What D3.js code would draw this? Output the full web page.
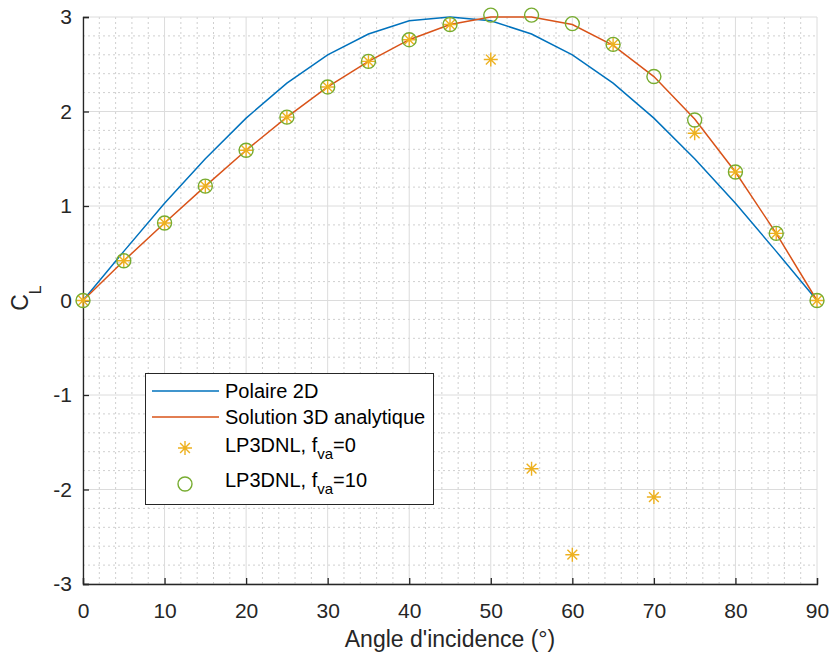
<!DOCTYPE html>
<html><head><meta charset="utf-8">
<script src="https://cdn.jsdelivr.net/npm/d3@7"></script>
<style>body{margin:0;background:#fff}svg{display:block;font-family:"Liberation Sans",Arial,sans-serif}</style>
</head><body>
<svg id="c" width="830" height="657"></svg>
<script>
const angles = [0,5,10,15,20,25,30,35,40,45,50,55,60,65,70,75,80,85,90];
const polaire2D = [0,0.52,1.03,1.50,1.93,2.30,2.60,2.82,2.96,3.00,2.96,2.82,2.60,2.30,1.93,1.50,1.03,0.52,0];
const solution3D = [0,0.42,0.82,1.21,1.59,1.94,2.26,2.53,2.76,2.92,3.00,3.00,2.92,2.70,2.37,1.92,1.36,0.71,0];
const lp3dnlF0 = [0,0.42,0.82,1.21,1.59,1.94,2.26,2.53,2.76,2.92,2.55,-1.78,-2.69,2.71,-2.08,1.77,1.36,0.71,0];
const lp3dnlF10 = [0,0.42,0.82,1.21,1.59,1.94,2.26,2.53,2.76,2.92,3.02,3.02,2.93,2.71,2.37,1.91,1.36,0.71,0];
const xTicks = [0,10,20,30,40,50,60,70,80,90];
const yTicks = [-3,-2,-1,0,1,2,3];
const legendLabels = ["Polaire 2D","Solution 3D analytique","LP3DNL, f","LP3DNL, f"];

const C = {blue:"#0072BD", orange:"#D95319", yellow:"#EDB120", green:"#77AC30", axis:"#262626"};
const svg = d3.select("#c");
const L=83, R=817, T=17, B=584;
const x = d3.scaleLinear().domain([0,90]).range([L,R]);
const y = d3.scaleLinear().domain([-3,3]).range([B,T]);

// minor grid
const g = svg.append("g");
g.selectAll(".mx").data(d3.range(0,91,2).filter(v=>v%10!==0)).join("line")
  .attr("x1",d=>x(d)).attr("x2",d=>x(d)).attr("y1",T).attr("y2",B)
  .attr("stroke","#cfcfcf").attr("stroke-width",1).attr("stroke-dasharray","2,3");
g.selectAll(".my").data(d3.range(-30,31,2).map(v=>v/10).filter(v=>Math.abs(v-Math.round(v))>1e-6)).join("line")
  .attr("y1",d=>y(d)).attr("y2",d=>y(d)).attr("x1",L).attr("x2",R)
  .attr("stroke","#cfcfcf").attr("stroke-width",1).attr("stroke-dasharray","2,3");
// major grid
g.selectAll(".gx").data(xTicks).join("line")
  .attr("x1",d=>x(d)).attr("x2",d=>x(d)).attr("y1",T).attr("y2",B)
  .attr("stroke","#dcdcdc").attr("stroke-width",1);
g.selectAll(".gy").data(yTicks).join("line")
  .attr("y1",d=>y(d)).attr("y2",d=>y(d)).attr("x1",L).attr("x2",R)
  .attr("stroke","#dcdcdc").attr("stroke-width",1);

// axes
const xa = svg.append("g").attr("transform",`translate(0,${B})`)
  .call(d3.axisBottom(x).tickValues(xTicks).tickSize(-6).tickPadding(19).tickFormat(d3.format("d")));
const ya = svg.append("g").attr("transform",`translate(${L},0)`)
  .call(d3.axisLeft(y).tickValues(yTicks).tickSize(-6).tickPadding(11).tickFormat(d=>d<0?"-"+Math.abs(d):d));
[xa,ya].forEach(a=>{
  a.select(".domain").attr("stroke",C.axis).attr("stroke-width",1.3);
  a.selectAll(".tick line").attr("stroke",C.axis).attr("stroke-width",1.3);
  a.selectAll(".tick text").attr("fill",C.axis).attr("font-size",21).attr("font-family","Liberation Sans, Arial, sans-serif");
});
xa.selectAll(".tick text").attr("dy","0.71em");

svg.append("text").attr("x",(L+R)/2).attr("y",647).attr("text-anchor","middle")
  .attr("font-size",23).attr("fill",C.axis).text("Angle d'incidence (°)");
const yl = svg.append("text").attr("transform",`translate(28,298) rotate(-90)`)
  .attr("text-anchor","middle").attr("font-size",23).attr("fill",C.axis);
yl.append("tspan").text("C");
yl.append("tspan").attr("font-size",16).attr("dy",13).text("L");

// lines
const line = d3.line().x((d,i)=>x(angles[i])).y(d=>y(d));
svg.append("path").datum(polaire2D).attr("d",line).attr("fill","none").attr("stroke",C.blue).attr("stroke-width",1.5);
svg.append("path").datum(solution3D).attr("d",line).attr("fill","none").attr("stroke",C.orange).attr("stroke-width",1.5);

function star(sel, cx, cy, s){
  const a = s*0.7;
  const p = `M${cx-s},${cy}L${cx+s},${cy}M${cx},${cy-s}L${cx},${cy+s}M${cx-a},${cy-a}L${cx+a},${cy+a}M${cx-a},${cy+a}L${cx+a},${cy-a}`;
  sel.append("path").attr("d",p).attr("stroke",C.yellow).attr("stroke-width",1.4).attr("fill","none");
}
const sg = svg.append("g");
lp3dnlF0.forEach((v,i)=>star(sg,x(angles[i]),y(v),7));
svg.append("g").selectAll("circle").data(lp3dnlF10).join("circle")
  .attr("cx",(d,i)=>x(angles[i])).attr("cy",d=>y(d)).attr("r",7)
  .attr("fill","none").attr("stroke",C.green).attr("stroke-width",1.4);

// legend
const lg = svg.append("g");
lg.append("rect").attr("x",145.5).attr("y",373.5).attr("width",288).attr("height",131)
  .attr("fill","#fff").attr("stroke",C.axis).attr("stroke-width",1);
const rows = [391,417,445,480];
const fs = 20;
lg.append("line").attr("x1",152).attr("x2",219).attr("y1",rows[0]).attr("y2",rows[0]).attr("stroke",C.blue).attr("stroke-width",1.5);
lg.append("line").attr("x1",152).attr("x2",219).attr("y1",rows[1]).attr("y2",rows[1]).attr("stroke",C.orange).attr("stroke-width",1.5);
star(lg,185,rows[2]+3,7);
lg.append("circle").attr("cx",185).attr("cy",rows[3]+4).attr("r",7).attr("fill","none").attr("stroke",C.green).attr("stroke-width",1.4);
const sub = ["va","va"], after=["=0","=10"];
legendLabels.forEach((t,i)=>{
  const tx = lg.append("text").attr("x",225).attr("y",rows[i]+7).attr("font-size",fs).attr("fill","#000");
  tx.append("tspan").text(t);
  if(i>=2){
    tx.append("tspan").attr("font-size",15).attr("dy",7).text(sub[i-2]);
    tx.append("tspan").attr("dy",-7).text(after[i-2]);
  }
});
</script>
</body></html>
